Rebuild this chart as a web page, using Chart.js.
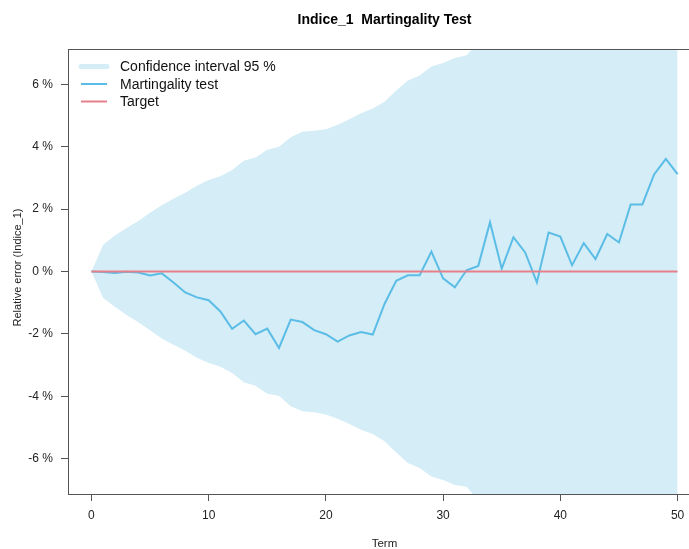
<!DOCTYPE html>
<html><head><meta charset="utf-8">
<script src="https://cdn.jsdelivr.net/npm/chart.js@4/dist/chart.umd.min.js"></script>
<style>html,body{margin:0;padding:0;background:#fff;overflow:hidden}canvas{display:block}</style>
</head><body>
<canvas id="c" width="702" height="549"></canvas>
<script>
const terms = [0,1,2,3,4,5,6,7,8,9,10,11,12,13,14,15,16,17,18,19,20,21,22,23,24,25,26,27,28,29,30,31,32,33,34,35,36,37,38,39,40,41,42,43,44,45,46,47,48,49,50];
const martingality = [0,-0.02,-0.05,-0.01,-0.03,-0.13,-0.06,-0.35,-0.67,-0.83,-0.92,-1.28,-1.84,-1.57,-2.01,-1.83,-2.45,-1.54,-1.62,-1.88,-2.01,-2.25,-2.05,-1.94,-2.02,-1.04,-0.30,-0.12,-0.12,0.64,-0.22,-0.51,0.04,0.18,1.58,0.09,1.10,0.61,-0.35,1.25,1.12,0.20,0.91,0.40,1.20,0.93,2.15,2.15,3.11,3.61,3.12];
const ciUpper = [0,0.86,1.15,1.39,1.62,1.88,2.12,2.33,2.52,2.75,2.93,3.05,3.25,3.55,3.65,3.90,4.00,4.30,4.48,4.51,4.56,4.70,4.88,5.07,5.22,5.44,5.80,6.12,6.28,6.57,6.68,6.84,6.93,7.33,7.48,7.62,7.76,7.90,8.03,8.16,8.29,8.41,8.53,8.65,8.77,8.88,8.99,9.10,9.21,9.31,9.41];
const ciLower = [0,-0.85,-1.13,-1.39,-1.63,-1.88,-2.15,-2.35,-2.54,-2.76,-2.93,-3.05,-3.25,-3.55,-3.66,-3.92,-3.98,-4.32,-4.48,-4.51,-4.58,-4.72,-4.89,-5.07,-5.21,-5.44,-5.80,-6.14,-6.30,-6.57,-6.68,-6.84,-6.90,-7.33,-7.48,-7.62,-7.76,-7.90,-8.03,-8.16,-8.29,-8.41,-8.53,-8.65,-8.77,-8.88,-8.99,-9.10,-9.21,-9.31,-9.41];
const target = [0,0,0,0,0,0,0,0,0,0,0,0,0,0,0,0,0,0,0,0,0,0,0,0,0,0,0,0,0,0,0,0,0,0,0,0,0,0,0,0,0,0,0,0,0,0,0,0,0,0,0];
const xTicks = [0,10,20,30,40,50];
const yTicks = [-6,-4,-2,0,2,4,6];
const chartTitle = 'Indice_1  Martingality Test';
const xTitle = 'Term';
const yTitle = 'Relative error (Indice_1)';
const legendLabels = ['Confidence interval 95 %','Martingality test','Target'];

const CI_COLOR = '#d4edf7';
const MT_COLOR = '#5bbde6';
const TG_COLOR = '#e5808a';
const FONT = '"Liberation Sans", Arial, Helvetica, sans-serif';

const pts = arr => terms.map((t,i)=>({x:t,y:arr[i]}));

const decor = {
  id:'decor',
  beforeDatasetsDraw(chart){
    const ctx = chart.ctx, ca = chart.chartArea;
    ctx.save();
    ctx.strokeStyle = '#555'; ctx.lineWidth = 1;
    ctx.strokeRect(ca.left+0.5, ca.top+0.5, ca.right-ca.left-1, ca.bottom-ca.top);
    ctx.restore();
  },
  afterDraw(chart){
    const ctx = chart.ctx, ca = chart.chartArea;
    ctx.save();
    ctx.fillStyle = '#000';
    ctx.textAlign = 'center'; ctx.textBaseline = 'middle';
    ctx.font = 'bold 14px ' + FONT;
    ctx.fillText(chartTitle, (ca.left+ca.right)/2, 20);
    ctx.font = '11.5px ' + FONT;
    ctx.fillStyle = '#222';
    ctx.fillText(xTitle, (ca.left+ca.right)/2, 544);
    ctx.font = '11px ' + FONT;
    ctx.save();
    ctx.translate(18, (ca.top+ca.bottom)/2 - 4); ctx.rotate(-Math.PI/2);
    ctx.fillText(yTitle, 0, 0);
    ctx.restore();
    // legend
    const rows = [66.5, 84, 101.5];
    const styles = [
      {c:CI_COLOR, w:5, cap:'round'},
      {c:MT_COLOR, w:2, cap:'butt'},
      {c:TG_COLOR, w:2, cap:'butt'}
    ];
    ctx.font = '14px ' + FONT;
    ctx.textAlign = 'left';
    legendLabels.forEach((lab,i)=>{
      const s = styles[i];
      ctx.strokeStyle = s.c; ctx.lineWidth = s.w; ctx.lineCap = s.cap;
      ctx.beginPath(); ctx.moveTo(81, rows[i]); ctx.lineTo(107, rows[i]); ctx.stroke();
      ctx.fillStyle = '#111';
      ctx.fillText(lab, 120, rows[i]+1);
    });
    ctx.restore();
  }
};

new Chart(document.getElementById('c'), {
  type:'line',
  data:{
    datasets:[
      {label:legendLabels[0], data:pts(ciUpper), fill:'+1', backgroundColor:CI_COLOR, borderWidth:0, pointRadius:0, order:3},
      {label:'lower', data:pts(ciLower), fill:false, borderWidth:0, pointRadius:0, order:3},
      {label:legendLabels[1], data:pts(martingality), borderColor:MT_COLOR, borderWidth:2, pointRadius:0, fill:false, order:1},
      {label:legendLabels[2], data:pts(target), borderColor:TG_COLOR, borderWidth:1.8, pointRadius:0, fill:false, order:0}
    ]
  },
  options:{
    responsive:false, devicePixelRatio:1, animation:false,
    layout:{padding:{left:0, right:1, top:49, bottom:0}},
    plugins:{legend:{display:false}, tooltip:{enabled:false}, filler:{drawTime:'beforeDatasetsDraw'}},
    elements:{line:{tension:0}},
    scales:{
      x:{type:'linear', min:-2, max:52,
        afterBuildTicks:s=>{s.ticks = xTicks.map(v=>({value:v}));},
        afterFit:s=>{s.height = 55; s.paddingLeft = 0; s.paddingRight = 0;},
        grid:{display:true, drawOnChartArea:false, drawTicks:true, tickLength:7, color:'#555'},
        border:{display:false},
        ticks:{padding:7, color:'#222', font:{family:FONT, size:12}, maxRotation:0, callback:v=>String(v)}
      },
      y:{type:'linear', min:-7.13, max:7.13,
        afterBuildTicks:s=>{s.ticks = yTicks.map(v=>({value:v}));},
        afterFit:s=>{s.width = 68; s.paddingTop = 0; s.paddingBottom = 0;},
        grid:{display:true, drawOnChartArea:false, drawTicks:true, tickLength:7, color:'#555'},
        border:{display:false},
        ticks:{padding:8, color:'#222', font:{family:FONT, size:12}, callback:v=>v+' %'}
      }
    }
  },
  plugins:[decor]
});
</script>
</body></html>
